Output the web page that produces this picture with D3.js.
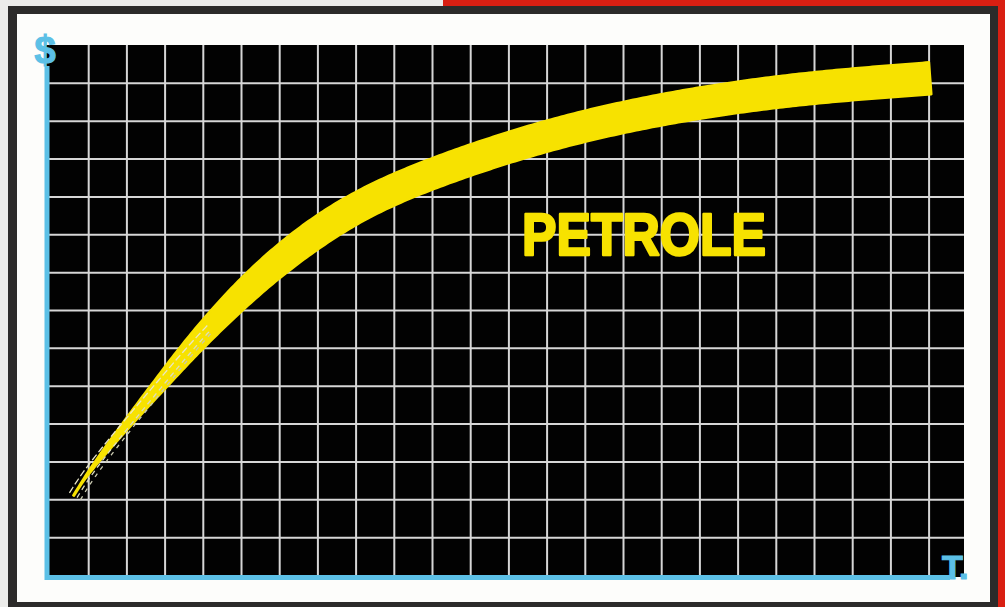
<!DOCTYPE html>
<html>
<head>
<meta charset="utf-8">
<script src="https://cdn.jsdelivr.net/npm/d3@7"></script>
<style>
  html, body { margin: 0; padding: 0; background: #ffffff; overflow: hidden; }
  svg { display: block; }
</style>
</head>
<body>
<svg id="chart" width="1005" height="607"></svg>
<script>
// Oil price over time, in grid units (one cell = one step)
const timeSteps   = [0.62, 1.0, 2.0, 3.0, 3.7, 4.6, 5.63, 6.81, 8.12, 9.69, 11.78, 13.87, 16.49, 19.63, 23.04];
const priceLevels = [2.10, 2.72, 3.98, 5.18, 6.02, 7.00, 8.00, 8.95, 9.79, 10.50, 11.24, 11.85, 12.41, 12.86, 13.12];

// Grid divisions
const timeGrid  = d3.range(1, 24);
const priceGrid = d3.range(1, 14);

// Labels
const priceAxisLabel = "$";
const timeAxisLabel  = "T.";
const seriesLabel    = "PETROLE";

const svg = d3.select("#chart");
const W = 1005, H = 607;

const COLORS = {
  frame: "#2c2b2a",
  red: "#d91f12",
  paper: "#fdfdfb",
  board: "#020202",
  grid: "#d6d6d6",
  axis: "#5cc0e6",
  yellow: "#f7e200"
};

// Outer mount: red card peeking out, dark frame, white paper
svg.append("rect").attr("x", 0).attr("y", 0).attr("width", W).attr("height", H).attr("fill", "#ececea");
svg.append("rect").attr("x", 443).attr("y", 0).attr("width", W - 443).attr("height", 9).attr("fill", COLORS.red);
svg.append("rect").attr("x", 996).attr("y", 0).attr("width", 9).attr("height", H).attr("fill", COLORS.red);
svg.append("rect").attr("x", 8).attr("y", 6).attr("width", 990).attr("height", 610).attr("fill", COLORS.frame);
svg.append("rect").attr("x", 17).attr("y", 14).attr("width", 973).attr("height", 588).attr("fill", COLORS.paper);

// Scales
const x = d3.scaleLinear().domain([0, 24]).range([50, 966.8]);
const y = d3.scaleLinear().domain([0, 14]).range([575, 45]);

const boardLeft = 46, boardRight = 964, boardTop = 45, boardBottom = 577;

svg.append("rect")
  .attr("x", boardLeft).attr("y", boardTop)
  .attr("width", boardRight - boardLeft).attr("height", boardBottom - boardTop)
  .attr("fill", COLORS.board);

// Grid via axes
const gridX = svg.append("g")
  .attr("transform", `translate(0,${boardBottom})`)
  .call(d3.axisBottom(x).tickValues(timeGrid).tickSize(-(boardBottom - boardTop)).tickFormat(""));
const gridY = svg.append("g")
  .attr("transform", `translate(${boardLeft},0)`)
  .call(d3.axisLeft(y).tickValues(priceGrid).tickSize(-(boardRight - boardLeft)).tickFormat(""));
[gridX, gridY].forEach(g => {
  g.select(".domain").remove();
  g.selectAll(".tick line").attr("stroke", COLORS.grid).attr("stroke-width", 2);
});

// Blue axes
svg.append("line")
  .attr("x1", 47).attr("x2", 47).attr("y1", 66).attr("y2", 580)
  .attr("stroke", COLORS.axis).attr("stroke-width", 5);
svg.append("line")
  .attr("x1", 45).attr("x2", 950).attr("y1", 577.5).attr("y2", 577.5)
  .attr("stroke", COLORS.axis).attr("stroke-width", 5);

svg.append("text")
  .attr("x", 45).attr("y", 63)
  .attr("text-anchor", "middle")
  .attr("font-family", "Liberation Sans, Arial, sans-serif")
  .attr("font-weight", "bold").attr("font-size", 38)
  .attr("fill", COLORS.axis)
  .attr("stroke", COLORS.axis).attr("stroke-width", 1.2)
  .text(priceAxisLabel);
svg.append("text")
  .attr("x", 942).attr("y", 579)
  .attr("font-family", "Liberation Sans, Arial, sans-serif")
  .attr("font-weight", "bold").attr("font-size", 34)
  .attr("fill", COLORS.axis)
  .attr("stroke", COLORS.axis).attr("stroke-width", 1.2)
  .text(timeAxisLabel);

// Brush-stroke curve: smooth centre line, then a variable-width outline around it
const pts = timeSteps.map((t, i) => [x(t), y(priceLevels[i])]);
const centerLine = d3.line().curve(d3.curveBasis);
const guide = svg.append("path").attr("d", centerLine(pts)).attr("fill", "none").attr("stroke", "none");
const node = guide.node();
const total = node.getTotalLength();
const N = 300;
const samples = d3.range(N + 1).map(i => {
  const s = i / N;
  const p = node.getPointAtLength(s * total);
  const q = node.getPointAtLength(Math.min(total, s * total + 1));
  const r = node.getPointAtLength(Math.max(0, s * total - 1));
  const dx = q.x - r.x, dy = q.y - r.y, len = Math.hypot(dx, dy) || 1;
  return { s, x: p.x, y: p.y, nx: -dy / len, ny: dx / len };
});
function brushWidth(s) {
  if (s < 0.4) {
    const u = s / 0.4;
    return Math.max(0.8, 29 * Math.pow(Math.sin(u * Math.PI / 2), 1.2));
  }
  return 29 + 3 * (s - 0.4) / 0.6;
}
const upper = samples.map(d => [d.x + d.nx * brushWidth(d.s) / 2, d.y + d.ny * brushWidth(d.s) / 2]);
const lower = samples.map(d => [d.x - d.nx * brushWidth(d.s) / 2, d.y - d.ny * brushWidth(d.s) / 2]).reverse();
svg.append("path")
  .attr("d", d3.line()(upper.concat(lower)) + "Z")
  .attr("fill", COLORS.yellow)
  .attr("stroke", COLORS.yellow)
  .attr("stroke-width", 2.5)
  .attr("stroke-linejoin", "round");

// Dry-brush hairs at the start of the stroke
[[-5, "#e9e6c8", "7,3"], [4, "#dcdcc0", "5,4"], [8, "#c9c9b0", "4,5"]].forEach(([off, col, dash]) => {
  const hair = samples.filter(d => d.s < 0.22)
    .map(d => [d.x + d.nx * off * (1 - d.s * 1.8), d.y + d.ny * off * (1 - d.s * 1.8)]);
  svg.append("path")
    .attr("d", d3.line()(hair))
    .attr("fill", "none").attr("stroke", col)
    .attr("stroke-width", 1.3).attr("stroke-dasharray", dash);
});

// Series label
svg.append("text")
  .attr("x", 522).attr("y", 255)
  .attr("font-family", "Liberation Sans, Arial, sans-serif")
  .attr("font-weight", "bold").attr("font-size", 59)
  .attr("textLength", 244).attr("lengthAdjust", "spacingAndGlyphs")
  .attr("fill", COLORS.yellow)
  .attr("stroke", COLORS.yellow).attr("stroke-width", 2.5)
  .attr("stroke-linejoin", "round")
  .text(seriesLabel);
</script>
</body>
</html>
